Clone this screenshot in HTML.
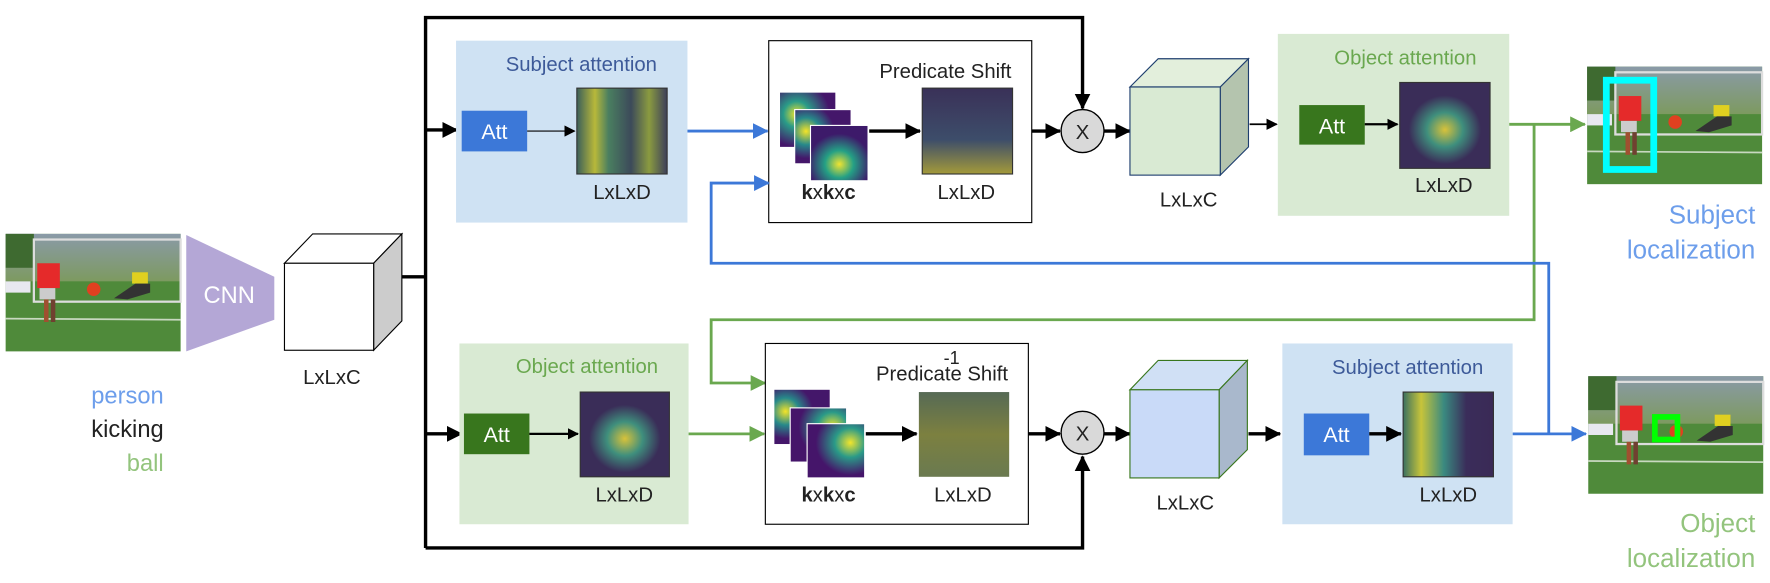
<!DOCTYPE html>
<html><head><meta charset="utf-8"><style>
html,body{margin:0;padding:0;background:#fff;}
svg{display:block;}
text{font-family:"Liberation Sans",sans-serif;}
</style></head><body>
<svg width="1770" height="583" viewBox="0 0 1568 516" preserveAspectRatio="none" xmlns="http://www.w3.org/2000/svg">
<defs>
<marker id="ab" markerWidth="10" markerHeight="10" refX="9" refY="5" orient="auto" markerUnits="userSpaceOnUse"><path d="M0,0 L10,5 L0,10 z" fill="#000"/></marker>
<marker id="abB" markerWidth="14" markerHeight="14" refX="13" refY="7" orient="auto" markerUnits="userSpaceOnUse"><path d="M0,0 L14,7 L0,14 z" fill="#000"/></marker>
<marker id="aBl" markerWidth="14" markerHeight="14" refX="13" refY="7" orient="auto" markerUnits="userSpaceOnUse"><path d="M0,0 L14,7 L0,14 z" fill="#3c78d8"/></marker>
<marker id="aGr" markerWidth="14" markerHeight="14" refX="13" refY="7" orient="auto" markerUnits="userSpaceOnUse"><path d="M0,0 L14,7 L0,14 z" fill="#6aa84f"/></marker>
<radialGradient id="hm1" cx="0.5" cy="0.55" r="0.4"><stop offset="0" stop-color="#d8c23a"/><stop offset="0.5" stop-color="#3f8f7d"/><stop offset="1" stop-color="#3a2d58"/></radialGradient>
<linearGradient id="hmS" x1="0" y1="0" x2="1" y2="0"><stop offset="0" stop-color="#3b5f5a"/><stop offset="0.2" stop-color="#b8b83a"/><stop offset="0.35" stop-color="#4a7f60"/><stop offset="0.6" stop-color="#3c4a5a"/><stop offset="0.8" stop-color="#8a9a40"/><stop offset="1" stop-color="#3c3f5a"/></linearGradient>
<linearGradient id="hmP" x1="0" y1="0" x2="0" y2="1"><stop offset="0" stop-color="#3a3158"/><stop offset="0.6" stop-color="#3d4d6a"/><stop offset="1" stop-color="#a49a3a"/></linearGradient>
<linearGradient id="hmP2" x1="0" y1="0" x2="0" y2="1"><stop offset="0" stop-color="#566a55"/><stop offset="0.5" stop-color="#7c8040"/><stop offset="1" stop-color="#6a7a50"/></linearGradient>
<linearGradient id="hmSA" x1="0" y1="0" x2="1" y2="0"><stop offset="0" stop-color="#3a7060"/><stop offset="0.2" stop-color="#c7c43a"/><stop offset="0.45" stop-color="#3a8a80"/><stop offset="0.7" stop-color="#3a2d5a"/><stop offset="1" stop-color="#3a2a56"/></linearGradient>
<radialGradient id="k1" cx="0.3" cy="0.4" r="0.6"><stop offset="0" stop-color="#f3e52a"/><stop offset="0.4" stop-color="#2a9c88"/><stop offset="1" stop-color="#44156a"/></radialGradient>
<radialGradient id="k3" cx="0.5" cy="0.7" r="0.55"><stop offset="0" stop-color="#f0e430"/><stop offset="0.45" stop-color="#24a085"/><stop offset="1" stop-color="#3d1a6a"/></radialGradient>
<radialGradient id="k4" cx="0.2" cy="0.4" r="0.5"><stop offset="0" stop-color="#f4e428"/><stop offset="0.5" stop-color="#27898a"/><stop offset="1" stop-color="#44176a"/></radialGradient>
<radialGradient id="k6" cx="0.75" cy="0.35" r="0.6"><stop offset="0" stop-color="#f2e52c"/><stop offset="0.45" stop-color="#2a9a88"/><stop offset="1" stop-color="#45156a"/></radialGradient>
<linearGradient id="sky" x1="0" y1="0" x2="0" y2="1"><stop offset="0" stop-color="#8a9aa8"/><stop offset="1" stop-color="#7d9a60"/></linearGradient>
<g id="photo">
<rect x="0" y="0" width="155" height="104" fill="#4f8a3a"/>
<rect x="0" y="0" width="155" height="42" fill="url(#sky)"/>
<rect x="0" y="0" width="25" height="30" fill="#3e6a30"/>
<rect x="25" y="5" width="130" height="55" fill="none" stroke="#ddd" stroke-width="2"/>
<rect x="0" y="42" width="22" height="10" fill="#e8e8f0"/>
<line x1="0" y1="75" x2="155" y2="76" stroke="#c8d8c0" stroke-width="1.5"/>
<rect x="28" y="26" width="20" height="22" fill="#e52a2a"/>
<rect x="30" y="48" width="14" height="10" fill="#ccc"/>
<rect x="34" y="58" width="4" height="20" fill="#a05030"/>
<rect x="40" y="58" width="4" height="20" fill="#704030"/>
<circle cx="78" cy="49" r="6" fill="#e04020"/>
<rect x="112" y="34" width="14" height="10" fill="#e0d020"/>
<path d="M96,57 L115,44 L128,44 L128,52 L108,58 z" fill="#333"/>
</g>
</defs>

<use href="#photo" x="5" y="207"/>
<path d="M165,208 L243,245 L243,283 L165,311 z" fill="#b4a7d6"/>
<text x="203" y="268" font-size="21" fill="#fff" text-anchor="middle">CNN</text>
<path d="M252,233 L277,207 L356,207 L331,233 z" fill="#fff" stroke="#000" stroke-width="1"/>
<path d="M331,233 L356,207 L356,284 L331,310 z" fill="#cccccc" stroke="#000" stroke-width="1"/>
<rect x="252" y="233" width="79" height="77" fill="#fff" stroke="#000" stroke-width="1"/>
<text x="294" y="340" font-size="18" text-anchor="middle" fill="#222">LxLxC</text>
<text x="145" y="357" font-size="21" text-anchor="end" fill="#6d9eeb">person</text>
<text x="145" y="387" font-size="21" text-anchor="end" fill="#222">kicking</text>
<text x="145" y="417" font-size="21" text-anchor="end" fill="#93c47d">ball</text>

<line x1="356" y1="245" x2="377" y2="245" stroke="#000" stroke-width="3"/>
<polyline points="377,485 377,15.5 959,15.5 959,96" fill="none" stroke="#000" stroke-width="3" marker-end="url(#abB)"/>
<polyline points="377,485 959,485 959,404" fill="none" stroke="#000" stroke-width="3" marker-end="url(#abB)"/>
<line x1="377" y1="115" x2="405" y2="115" stroke="#000" stroke-width="3" marker-end="url(#abB)"/>
<line x1="377" y1="384" x2="409" y2="384" stroke="#000" stroke-width="3" marker-end="url(#abB)"/>

<rect x="404" y="36" width="205" height="161" fill="#cfe2f3"/>
<text x="515" y="63" font-size="18" text-anchor="middle" fill="#3d5a99">Subject attention</text>
<rect x="409" y="98" width="58" height="36" fill="#3c78d8"/>
<text x="438" y="123" font-size="19" text-anchor="middle" fill="#fff">Att</text>
<line x1="467" y1="116" x2="509" y2="116" stroke="#000" stroke-width="1" marker-end="url(#ab)"/>
<rect x="511" y="78" width="80" height="76" fill="url(#hmS)" stroke="#333" stroke-width="1"/>
<text x="551" y="176" font-size="18" text-anchor="middle" fill="#222">LxLxD</text>
<line x1="609" y1="116" x2="680" y2="116" stroke="#3c78d8" stroke-width="2.5" marker-end="url(#aBl)"/>

<rect x="681" y="36" width="233" height="161" fill="#fff" stroke="#000" stroke-width="1"/>
<text x="896" y="69" font-size="18" text-anchor="end" fill="#222">Predicate Shift</text>
<rect x="691" y="82" width="49" height="48" fill="url(#k1)"/>
<rect x="704" y="97" width="50" height="48" fill="url(#k4)" stroke="#fff" stroke-width="1"/>
<rect x="718" y="111" width="51" height="49" fill="url(#k3)" stroke="#fff" stroke-width="1"/>
<text x="734" y="176" font-size="18" text-anchor="middle" fill="#222"><tspan font-weight="bold">k</tspan>x<tspan font-weight="bold">k</tspan>x<tspan font-weight="bold">c</tspan></text>
<line x1="770" y1="116" x2="815" y2="116" stroke="#000" stroke-width="3" marker-end="url(#abB)"/>
<rect x="817" y="78" width="80" height="76" fill="url(#hmP)" stroke="#333" stroke-width="1"/>
<text x="856" y="176" font-size="18" text-anchor="middle" fill="#222">LxLxD</text>
<line x1="914" y1="116" x2="939" y2="116" stroke="#000" stroke-width="3" marker-end="url(#abB)"/>
<circle cx="959" cy="116" r="19" fill="#d9d9d9" stroke="#000" stroke-width="1.2"/>
<text x="959" y="123" font-size="18" text-anchor="middle" fill="#222">X</text>
<line x1="978" y1="116" x2="1001" y2="116" stroke="#000" stroke-width="3" marker-end="url(#abB)"/>

<path d="M1001,77 L1026,52 L1106,52 L1081,77 z" fill="#e3efdc" stroke="#1f3f6f" stroke-width="1"/>
<path d="M1081,77 L1106,52 L1106,130 L1081,155 z" fill="#b4c4ae" stroke="#1f3f6f" stroke-width="1"/>
<rect x="1001" y="77" width="80" height="78" fill="#d9ead3" stroke="#1f3f6f" stroke-width="1"/>
<text x="1053" y="183" font-size="18" text-anchor="middle" fill="#222">LxLxC</text>
<line x1="1107" y1="110" x2="1131" y2="110" stroke="#000" stroke-width="1.5" marker-end="url(#ab)"/>

<rect x="1132" y="30" width="205" height="161" fill="#d9ead3"/>
<text x="1245" y="57" font-size="18" text-anchor="middle" fill="#6aa84f">Object attention</text>
<rect x="1151" y="93" width="58" height="35" fill="#38761d"/>
<text x="1180" y="118" font-size="19" text-anchor="middle" fill="#fff">Att</text>
<line x1="1209" y1="110" x2="1238" y2="110" stroke="#000" stroke-width="2" marker-end="url(#ab)"/>
<rect x="1240" y="73" width="80" height="76" fill="url(#hm1)" stroke="#333" stroke-width="1"/>
<text x="1279" y="170" font-size="18" text-anchor="middle" fill="#222">LxLxD</text>

<use href="#photo" x="1406" y="59"/>
<rect x="1423" y="71" width="42" height="79" fill="none" stroke="#00ffff" stroke-width="6"/>
<text x="1555" y="198" font-size="23" text-anchor="end" fill="#6d9eeb">Subject</text>
<text x="1555" y="229" font-size="23" text-anchor="end" fill="#6d9eeb">localization</text>

<line x1="1337" y1="110" x2="1404" y2="110" stroke="#6aa84f" stroke-width="2.5" marker-end="url(#aGr)"/>
<polyline points="1359,110 1359,283 630,283 630,339 678,339" fill="none" stroke="#6aa84f" stroke-width="2.5" marker-end="url(#aGr)"/>
<polyline points="1372,384 1372,233 630,233 630,162 681,162" fill="none" stroke="#3c78d8" stroke-width="2.5" marker-end="url(#aBl)"/>
<line x1="1340" y1="384" x2="1405" y2="384" stroke="#3c78d8" stroke-width="2.5" marker-end="url(#aBl)"/>

<rect x="407" y="304" width="203" height="160" fill="#d9ead3"/>
<text x="520" y="330" font-size="18" text-anchor="middle" fill="#6aa84f">Object attention</text>
<rect x="411" y="366" width="58" height="36" fill="#38761d"/>
<text x="440" y="391" font-size="19" text-anchor="middle" fill="#fff">Att</text>
<line x1="469" y1="384" x2="512" y2="384" stroke="#000" stroke-width="2" marker-end="url(#ab)"/>
<rect x="514" y="347" width="79" height="75" fill="url(#hm1)" stroke="#333" stroke-width="1"/>
<text x="553" y="444" font-size="18" text-anchor="middle" fill="#222">LxLxD</text>
<line x1="610" y1="384" x2="677" y2="384" stroke="#6aa84f" stroke-width="2.5" marker-end="url(#aGr)"/>

<rect x="678" y="304" width="233" height="160" fill="#fff" stroke="#000" stroke-width="1"/>
<text x="893" y="337" font-size="18" text-anchor="end" fill="#222">Predicate  Shift</text>
<text x="843" y="322" font-size="16" text-anchor="middle" fill="#222">-1</text>
<rect x="686" y="345" width="49" height="48" fill="url(#k4)"/>
<rect x="700" y="361" width="50" height="48" fill="url(#k6)" stroke="#fff" stroke-width="1"/>
<rect x="715" y="375" width="51" height="48" fill="url(#k6)" stroke="#fff" stroke-width="1"/>
<text x="734" y="444" font-size="18" text-anchor="middle" fill="#222"><tspan font-weight="bold">k</tspan>x<tspan font-weight="bold">k</tspan>x<tspan font-weight="bold">c</tspan></text>
<line x1="767" y1="384" x2="812" y2="384" stroke="#000" stroke-width="3" marker-end="url(#abB)"/>
<rect x="814" y="347" width="80" height="75" fill="url(#hmP2)"/>
<text x="853" y="444" font-size="18" text-anchor="middle" fill="#222">LxLxD</text>
<line x1="911" y1="384" x2="939" y2="384" stroke="#000" stroke-width="3" marker-end="url(#abB)"/>
<circle cx="959" cy="383" r="19" fill="#d9d9d9" stroke="#000" stroke-width="1.2"/>
<text x="959" y="390" font-size="18" text-anchor="middle" fill="#222">X</text>
<line x1="978" y1="384" x2="1001" y2="384" stroke="#000" stroke-width="3" marker-end="url(#abB)"/>

<path d="M1001,345 L1026,319 L1105,319 L1080,345 z" fill="#d0e0f5" stroke="#38761d" stroke-width="1"/>
<path d="M1080,345 L1105,319 L1105,398 L1080,423 z" fill="#a9b8cc" stroke="#38761d" stroke-width="1"/>
<rect x="1001" y="345" width="79" height="78" fill="#c9daf8" stroke="#38761d" stroke-width="1"/>
<text x="1050" y="451" font-size="18" text-anchor="middle" fill="#222">LxLxC</text>
<line x1="1106" y1="384" x2="1134" y2="384" stroke="#000" stroke-width="3" marker-end="url(#abB)"/>

<rect x="1136" y="304" width="204" height="160" fill="#cfe2f3"/>
<text x="1247" y="331" font-size="18" text-anchor="middle" fill="#3d5a99">Subject attention</text>
<rect x="1155" y="366" width="58" height="37" fill="#3c78d8"/>
<text x="1184" y="391" font-size="19" text-anchor="middle" fill="#fff">Att</text>
<line x1="1213" y1="384" x2="1241" y2="384" stroke="#000" stroke-width="3" marker-end="url(#abB)"/>
<rect x="1243" y="347" width="80" height="75" fill="url(#hmSA)" stroke="#333" stroke-width="1"/>
<text x="1283" y="444" font-size="18" text-anchor="middle" fill="#222">LxLxD</text>

<use href="#photo" x="1407" y="333"/>
<rect x="1466" y="369" width="20" height="20" fill="none" stroke="#00ff00" stroke-width="5"/>
<text x="1555" y="471" font-size="23" text-anchor="end" fill="#93c47d">Object</text>
<text x="1555" y="502" font-size="23" text-anchor="end" fill="#93c47d">localization</text>
</svg>
</body></html>
